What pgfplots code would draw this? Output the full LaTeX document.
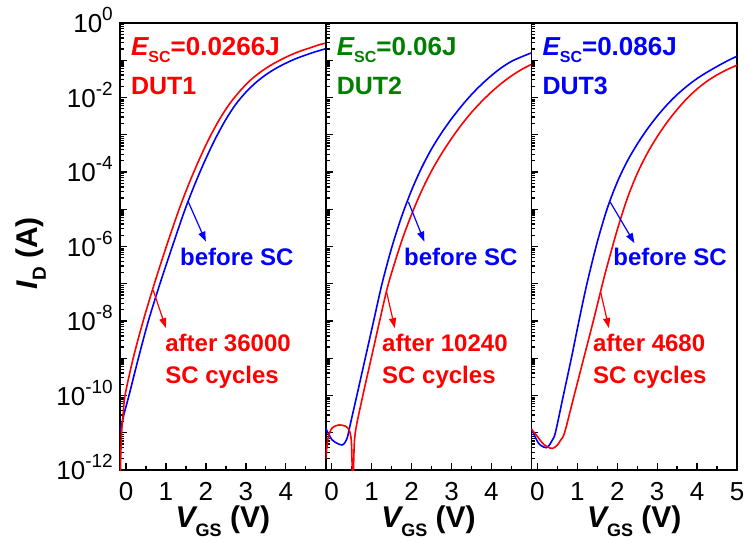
\documentclass[border=0pt]{standalone}
\usepackage{fontspec}
\setmainfont{Liberation Sans}
\usepackage{pgfplots}
\pgfplotsset{compat=1.18}
\usetikzlibrary{arrows.meta}
\definecolor{cred}{RGB}{255,0,0}
\definecolor{cblue}{RGB}{0,0,255}
\definecolor{cgreen}{RGB}{0,128,0}
\newcommand\tl[1]{10\raisebox{12pt}{\fontsize{19}{19}\selectfont #1}}
\newcommand\Esc{{\itshape E}\raisebox{-7pt}{\fontsize{16}{16}\selectfont SC}}
\def\minorlist{1e-12}
\foreach \e in {-12,...,-1}{\foreach \m in {2,...,9}{\xdef\minorlist{\minorlist,\m e\e}}}
\pgfplotsset{
    scale only axis, width=205.7pt, height=447pt,
    xmin=-0.15, xmax=5, ymin=1e-12, ymax=1,
    axis line style={line width=1.8pt, black},
    every tick/.style={line width=1.4pt, black},
    major tick length=7pt, minor tick length=4pt,
    tick align=inside, xtick pos=bottom, ytick pos=left,
    xtick={0,1,2,3,4,5}, minor xtick={0.5,1.5,2.5,3.5,4.5},
    ytick={1e-12,1e-11,1e-10,1e-9,1e-8,1e-7,1e-6,1e-5,1e-4,1e-3,1e-2,1e-1,1},
    ticklabel style={font=\fontsize{26}{26}\selectfont},
    xticklabel style={anchor=north, inner sep=0pt, yshift=-12pt},
    yticklabel style={anchor=base east, inner sep=0pt, xshift=-7pt, yshift=-9.5pt},
    xlabel={\bfseries{\itshape V}\raisebox{-9pt}{\fontsize{18}{18}\selectfont GS} (V)},
    xlabel style={at={(axis description cs:0.5,0)}, anchor=base, yshift=-57pt, font=\fontsize{30}{30}\selectfont\bfseries},
}
\edef\tmp{\noexpand\pgfplotsset{myminor/.style={minor ytick={\minorlist}}}}\tmp
\tikzset{
  curveB/.style={cblue, line width=1.6pt, smooth},
  curveA/.style={cred, line width=1.6pt, smooth},
  arrB/.style={cblue, line width=1.2pt, -{Triangle[length=10pt,width=7pt]}},
  arrA/.style={cred, line width=1.2pt, -{Triangle[length=10pt,width=7pt]}},
  lab/.style={anchor=base west, inner sep=0pt, font=\fontsize{24}{24}\selectfont\bfseries},
  esc/.style={anchor=base west, inner sep=0pt, font=\fontsize{26}{26}\selectfont\bfseries},
  dut/.style={anchor=base west, inner sep=0pt, font=\fontsize{25}{25}\selectfont\bfseries},
}
\begin{document}
\begin{tikzpicture}
% ---------------- DUT1 ----------------
\begin{semilogyaxis}[myminor, at={(0pt,0pt)}, anchor=south west,
  xticklabels={0,1,2,3,4,{}},
  yticklabels={\tl{-12},{},\tl{-10},{},\tl{-8},{},\tl{-6},{},\tl{-4},{},\tl{-2},{},\tl{0}},
  ylabel={{\itshape I}\raisebox{-8pt}{\fontsize{19}{19}\selectfont D} (A)},
  ylabel style={at={(axis description cs:-0.399,0.485)}, anchor=base, inner sep=0pt, font=\fontsize{30}{30}\selectfont\bfseries}]
\addplot[curveB] coordinates {
(-0.15,1e-11) (-0.05,3.16e-11) (0.075,1e-10) (0.31,1e-9) (0.56,1e-8) (0.85,1e-7)
(1.16,1e-6) (1.48,1e-5) (1.75,5.5e-5) (2.0,2.29e-4) (2.25,8.32e-4) (2.5,2.57e-3)
(2.75,6.61e-3) (3.0,1.38e-2) (3.25,2.51e-2) (3.5,4.07e-2) (3.75,6.03e-2) (4.0,8.32e-2)
(4.25,0.110) (4.5,0.138) (4.75,0.170) (5.0,0.204)};
\addplot[curveA] coordinates {
(-0.15,2.5e-13) (-0.13,2.5e-12) (-0.11,1e-11) (-0.07,3.16e-11) (-0.025,1e-10)
(0.18,1e-9) (0.43,1e-8) (0.71,1e-7) (1.01,1e-6) (1.33,1e-5) (1.6,5.62e-5)
(1.85,2.37e-4) (2.1,8.71e-4) (2.35,2.69e-3) (2.6,6.92e-3) (2.85,1.48e-2) (3.1,2.82e-2)
(3.35,4.68e-2) (3.6,7.08e-2) (3.85,0.1) (4.1,0.135) (4.35,0.174) (4.6,0.214)
(4.85,0.263) (5.0,0.288)};
\draw[arrB] (axis cs:1.56,1.58e-5) -- (axis cs:2.0,1.35e-6);
\draw[arrA] (axis cs:0.68,6.76e-8) -- (axis cs:1.0,6.46e-9);
\node[lab, text=cblue] at (axis cs:1.35,3.16e-7) {before SC};
\node[lab, text=cred] at (axis cs:0.98,1.48e-9) {after 36000};
\node[lab, text=cred] at (axis cs:0.98,2.09e-10) {SC cycles};
\node[esc, text=cred] at (rel axis cs:0.053,0.928) {\Esc=0.0266J};
\node[dut, text=cred] at (rel axis cs:0.053,0.839) {DUT1};
\end{semilogyaxis}
% ---------------- DUT2 ----------------
\begin{semilogyaxis}[myminor, at={(205.7pt,0pt)}, anchor=south west,
  xticklabels={0,1,2,3,4,{}}, yticklabels={}]
\addplot[curveB] coordinates {
(-0.15,1.32e-11) (-0.07,8.91e-12) (0.01,6.46e-12) (0.13,5.25e-12) (0.26,4.68e-12)
(0.34,5.62e-12) (0.40,7.94e-12) (0.45,1.41e-11) (0.63,1e-10) (0.84,1e-9)
(1.05,1e-8) (1.26,1e-7) (1.5,9.12e-7) (1.75,6.31e-6) (2.0,3.24e-5) (2.25,1.29e-4)
(2.5,4.17e-4) (2.75,1.12e-3) (3.0,2.69e-3) (3.25,5.89e-3) (3.5,1.20e-2) (3.75,2.24e-2)
(4.0,3.89e-2) (4.25,6.31e-2) (4.5,9.33e-2) (4.75,0.123) (5.0,0.158)};
\addplot[curveA] coordinates {
(-0.15,2e-12) (-0.1,6.31e-12) (-0.05,1e-11) (0.02,1.38e-11) (0.18,1.62e-11)
(0.34,1.51e-11) (0.44,1.17e-11) (0.49,6.31e-12) (0.51,1.58e-12) (0.52,3.16e-13)
(0.54,3.16e-13) (0.55,1.58e-12) (0.59,1e-11) (0.78,1e-10) (0.99,1e-9)
(1.2,1e-8) (1.42,1e-7) (1.75,1.38e-6) (2.0,7.24e-6) (2.25,3.09e-5) (2.5,1.07e-4)
(2.75,3.09e-4) (3.0,7.94e-4) (3.25,1.86e-3) (3.5,3.98e-3) (3.75,7.76e-3) (4.0,1.41e-2)
(4.25,2.40e-2) (4.5,3.80e-2) (4.75,5.62e-2) (5.0,7.76e-2)};
\draw[arrB] (axis cs:1.92,1.58e-5) -- (axis cs:2.32,1.35e-6);
\draw[arrA] (axis cs:1.37,6.3e-8) -- (axis cs:1.58,6.46e-9);
\node[lab, text=cblue] at (axis cs:1.81,3.16e-7) {before SC};
\node[lab, text=cred] at (axis cs:1.26,1.48e-9) {after 10240};
\node[lab, text=cred] at (axis cs:1.26,2.09e-10) {SC cycles};
\node[esc, text=cgreen] at (rel axis cs:0.053,0.928) {\Esc=0.06J};
\node[dut, text=cgreen] at (rel axis cs:0.053,0.839) {DUT2};
\end{semilogyaxis}
% ---------------- DUT3 ----------------
\begin{semilogyaxis}[myminor, at={(411.4pt,0pt)}, anchor=south west,
  xticklabels={0,1,2,3,4,5}, yticklabels={}]
\addplot[curveB] coordinates {
(-0.15,1.26e-11) (0.01,5.62e-12) (0.1,4.47e-12) (0.22,3.98e-12) (0.30,4.68e-12)
(0.37,6.31e-12) (0.45,1e-11) (0.65,1e-10) (0.85,1e-9) (1.04,1e-8) (1.24,1e-7)
(1.5,1.33e-6) (1.75,1.06e-5) (2.0,5.37e-5) (2.25,1.95e-4) (2.5,5.62e-4) (2.75,1.41e-3)
(3.0,3.16e-3) (3.25,6.46e-3) (3.5,1.20e-2) (3.75,2.04e-2) (4.0,3.24e-2) (4.25,4.79e-2)
(4.5,6.84e-2) (4.75,9.55e-2) (5.0,0.129)};
\addplot[curveA] coordinates {
(-0.15,1.26e-11) (0.0,7.94e-12) (0.13,5.25e-12) (0.25,4.17e-12) (0.38,3.8e-12)
(0.5,4.68e-12) (0.58,6.31e-12) (0.68,1e-11) (0.92,1e-10) (1.16,1e-9) (1.40,1e-8)
(1.63,1e-7) (1.75,3.09e-7) (2.0,2.82e-6) (2.25,1.95e-5) (2.5,9.12e-5) (2.75,3.16e-4)
(3.0,8.91e-4) (3.25,2.19e-3) (3.5,4.79e-3) (3.75,9.55e-3) (4.0,1.70e-2) (4.25,2.75e-2)
(4.5,4.07e-2) (4.75,5.62e-2) (5.0,7.41e-2)};
\draw[arrB] (axis cs:1.82,1.58e-5) -- (axis cs:2.43,1.23e-6);
\draw[arrA] (axis cs:1.58,6.2e-8) -- (axis cs:1.79,6.46e-9);
\node[lab, text=cblue] at (axis cs:1.90,3.16e-7) {before SC};
\node[lab, text=cred] at (axis cs:1.39,1.48e-9) {after 4680};
\node[lab, text=cred] at (axis cs:1.39,2.09e-10) {SC cycles};
\node[esc, text=cblue] at (rel axis cs:0.053,0.928) {\Esc=0.086J};
\node[dut, text=cblue] at (rel axis cs:0.053,0.839) {DUT3};
\end{semilogyaxis}
\pgfresetboundingbox
\path[use as bounding box] (-120pt,-71pt) rectangle (629pt,470pt);
\end{tikzpicture}
\end{document}
